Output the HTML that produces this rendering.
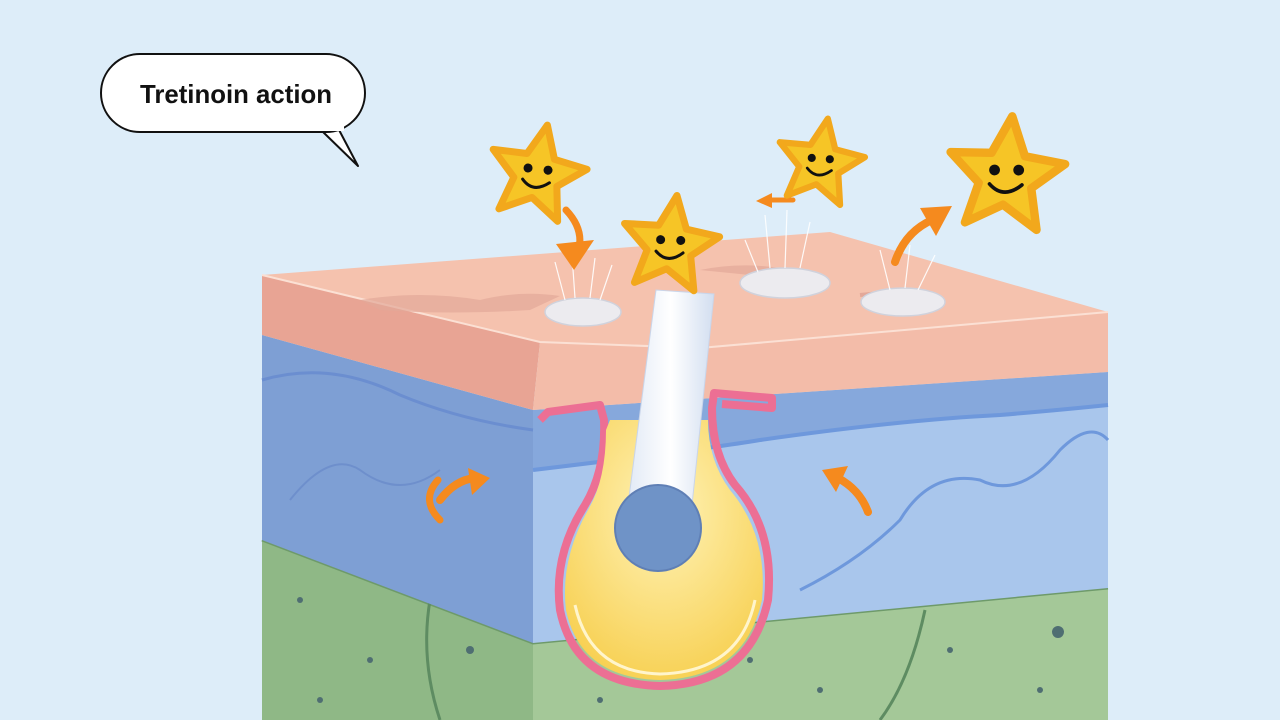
<!DOCTYPE html>
<html><head><meta charset="utf-8"><style>
html,body{margin:0;padding:0;width:1280px;height:720px;overflow:hidden;background:#ddedf9}
svg{display:block}
</style></head><body>
<svg width="1280" height="720" viewBox="0 0 1280 720" xmlns="http://www.w3.org/2000/svg">
<defs>
<radialGradient id="yel" cx="0.5" cy="0.35" r="0.7">
<stop offset="0" stop-color="#fff3b8"/><stop offset="1" stop-color="#f7cf4f"/></radialGradient>
<linearGradient id="hair" x1="0" x2="1"><stop offset="0" stop-color="#e2eaf6"/><stop offset="0.5" stop-color="#ffffff"/><stop offset="1" stop-color="#d2def0"/></linearGradient>
<g id="star">
<path d="M0,-50 L14,-18 L48,-15 L22,8 L30,42 L0,24 L-30,42 L-22,8 L-48,-15 L-14,-18 Z" fill="#f6c526" stroke="#f2a81c" stroke-width="7" stroke-linejoin="round"/>
<circle cx="-10" cy="-4" r="4.5" fill="#111"/><circle cx="10" cy="-6" r="4.5" fill="#111"/>
<path d="M-13,8 Q0,20 14,6" fill="none" stroke="#111" stroke-width="3" stroke-linecap="round"/>
</g>
</defs>
<rect width="1280" height="720" fill="#ddedf9"/>

<polygon points="262,540 533,643 1108,588 1108,720 262,720" fill="#8fb886"/>
<polygon points="533,643 1108,588 1108,720 533,720" fill="#a4c898"/>
<polyline points="262,540 533,643 1108,588" fill="none" stroke="#6e9a6a" stroke-width="3"/>
<path d="M430,600 Q420,660 440,720" stroke="#5e8c62" stroke-width="3" fill="none"/>
<path d="M925,610 Q910,680 880,720" stroke="#5e8c62" stroke-width="3" fill="none"/>
<g fill="#4f6e72">
<circle cx="300" cy="600" r="3"/><circle cx="370" cy="660" r="3"/><circle cx="470" cy="650" r="4"/><circle cx="1058" cy="632" r="6"/><circle cx="1040" cy="690" r="3"/><circle cx="950" cy="650" r="3"/><circle cx="750" cy="660" r="3"/><circle cx="820" cy="690" r="3"/><circle cx="600" cy="700" r="3"/><circle cx="320" cy="700" r="3"/>
</g>

<polygon points="262,335 533,410 533,643 262,540" fill="#7e9fd4"/>
<polygon points="533,410 1108,372 1108,588 533,643" fill="#a9c6ec"/>
<path d="M533,470 Q700,450 760,440 Q900,420 1000,415 Q1060,410 1108,405 L1108,372 L533,410 Z" fill="#86a8dc"/>
<path d="M533,470 Q700,450 760,440 Q900,420 1000,415 Q1060,410 1108,405" fill="none" stroke="#6e98dc" stroke-width="4"/>
<path d="M262,380 Q330,360 400,395 Q460,420 533,430" fill="none" stroke="#6b8ed0" stroke-width="3"/>
<path d="M800,590 Q860,560 900,520 Q930,470 980,480 Q1020,500 1060,450 Q1090,420 1108,440" fill="none" stroke="#6e98dc" stroke-width="3"/>
<path d="M290,500 Q330,450 360,470 Q400,500 440,470" fill="none" stroke="#6e8fcc" stroke-width="2"/>
<path d="M440,500 Q455,480 475,478" fill="none" stroke="#f58a1e" stroke-width="8" stroke-linecap="round"/>
<path d="M440,520 Q420,500 438,480" fill="none" stroke="#f58a1e" stroke-width="7" stroke-linecap="round"/>
<polygon points="468,468 490,478 472,495" fill="#f58a1e"/>
<path d="M868,512 Q860,490 838,478" fill="none" stroke="#f58a1e" stroke-width="8" stroke-linecap="round"/>
<polygon points="822,470 848,466 836,492" fill="#f58a1e"/>

<polygon points="262,275 540,342 533,410 262,335" fill="#e8a494"/>
<polygon points="540,342 700,348 1108,312 1108,372 533,410" fill="#f3bca9"/>
<polygon points="262,275 830,232 1108,312 700,348 540,342" fill="#f5c2ae"/>
<polyline points="262,275 540,342 700,348 1108,312" fill="none" stroke="#fbe0d4" stroke-width="2"/>
<path d="M360,300 Q420,290 480,300 Q520,290 560,296 L530,310 Q450,315 380,310 Z" fill="#e3a899" opacity="0.7"/>
<path d="M700,270 Q740,262 780,268 L760,276 Z" fill="#e3a899" opacity="0.7"/>
<path d="M860,295 Q900,290 940,297" stroke="#e3a899" stroke-width="4" fill="none"/>

<g fill="#ecebef" stroke="#d0d2dc" stroke-width="1.5">
<ellipse cx="583" cy="312" rx="38" ry="14"/>
<ellipse cx="785" cy="283" rx="45" ry="15"/>
<ellipse cx="903" cy="302" rx="42" ry="14"/>
</g>
<g stroke="#ffffff" stroke-width="1.2" fill="none" opacity="0.9">
<path d="M565,300 L555,262 M575,298 L572,255 M590,298 L595,258 M600,300 L612,265"/>
<path d="M770,268 L765,215 M785,268 L787,210 M800,268 L810,222 M758,272 L745,240"/>
<path d="M890,290 L880,250 M905,288 L910,245 M918,290 L935,255"/>
</g>

<path d="M540,420 L548,412 L600,405 L604,420 Q606,470 585,505 Q553,555 560,610 Q575,684 660,686 Q750,684 768,600 Q775,530 735,485 Q712,455 712,408 L714,393 L772,398 L772,408 L722,404" fill="none" stroke="#ec6f94" stroke-width="8" stroke-linejoin="round"/>
<path d="M606,430 Q606,480 588,510 Q560,560 566,610 Q580,678 660,680 Q745,678 762,600 Q768,535 730,490 Q708,460 708,420 L610,420 Z" fill="url(#yel)"/>
<path d="M575,605 Q590,672 660,674 Q740,672 755,600" fill="none" stroke="#fff5cc" stroke-width="3"/>
<path d="M628,505 L656,290 L714,294 L692,505 Z" fill="url(#hair)" stroke="#c9d5ea" stroke-width="1"/>
<circle cx="658" cy="528" r="43" fill="#6f93c7" stroke="#5f7fb5" stroke-width="2"/>

<path d="M566,210 Q585,230 578,252" fill="none" stroke="#f58a1e" stroke-width="7" stroke-linecap="round"/>
<polygon points="556,244 594,240 574,270" fill="#f58a1e"/>
<path d="M793,200 L770,200" stroke="#f58a1e" stroke-width="5" stroke-linecap="round"/>
<polygon points="756,201 772,193 772,208" fill="#f58a1e"/>
<path d="M895,262 Q905,232 932,220" fill="none" stroke="#f58a1e" stroke-width="8" stroke-linecap="round"/>
<polygon points="952,206 920,208 936,236" fill="#f58a1e"/>

<use href="#star" transform="translate(537,174) rotate(12)"/>
<use href="#star" transform="translate(670,245) rotate(8)"/>
<use href="#star" transform="translate(820,163) rotate(10) scale(0.9)"/>
<use href="#star" transform="translate(1006,176) rotate(6) scale(1.2)"/>

<path d="M322,131 L358,166 L338,128" fill="#fff" stroke="#111" stroke-width="2" stroke-linejoin="round"/>
<rect x="101" y="54" width="264" height="78" rx="39" fill="#fff" stroke="#111" stroke-width="2"/>
<rect x="320" y="124" width="24" height="7" fill="#fff"/>
<text x="236" y="103" text-anchor="middle" font-family="Liberation Sans, sans-serif" font-size="26" font-weight="bold" fill="#111" textLength="192" lengthAdjust="spacingAndGlyphs">Tretinoin action</text>
</svg>
</body></html>
